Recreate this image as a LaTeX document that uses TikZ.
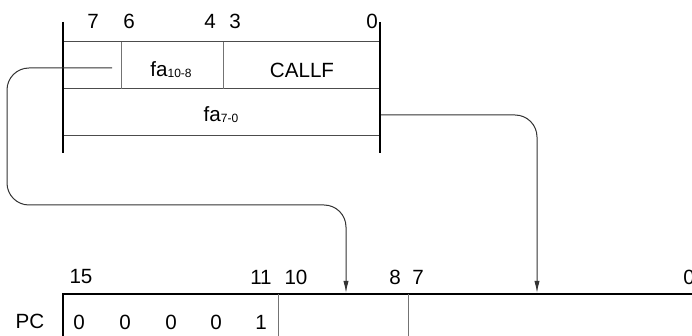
\documentclass[tikz,border=0pt]{standalone}
\usepackage{fontspec}
\setmainfont{Liberation Sans}
\usetikzlibrary{arrows.meta}

\newcommand{\bitsub}[1]{\raisebox{-0.4pt}{\fontsize{6}{7}\selectfont #1}}

\begin{document}
\begin{tikzpicture}[x=0.5pt,y=-0.5pt,
  lbl/.style={inner sep=0pt,font=\fontsize{10.3}{12}\selectfont},
  bar/.style={line width=1.3pt,black},
  rule/.style={line width=0.5pt,black!70},
  divider/.style={line width=0.5pt,black!55},
  conn/.style={line width=0.5pt,black!80,rounded corners=11pt,
    -{Latex[length=6pt,width=2.6pt]}}]
\useasboundingbox (0,0) rectangle (692,336);
% instruction word
\node[lbl] (u7) at (93,21) {7};
\node[lbl] (u6) at (129,21) {6};
\node[lbl] (u4) at (210,21) {4};
\node[lbl] (u3) at (235,21) {3};
\node[lbl] (u0) at (372,21) {0};
\draw[rule] (63,42) -- (380,42);
\draw[rule] (63,89) -- (380,89);
\draw[rule] (63,136) -- (380,136);
\draw[divider] (121,42) -- (121,89);
\draw[divider] (223,42) -- (223,89);
\draw[bar] (63,22) -- (63,153);
\draw[bar] (380,22) -- (380,153);
\node[lbl] (fahi) at (171,70) {fa\bitsub{10-8}};
\node[lbl] (callf) at (302,70) {CALLF};
\node[lbl] (falo) at (221,115) {fa\bitsub{7-0}};
% program counter
\node[lbl] (p15) at (81,277) {15};
\node[lbl] (p11) at (261,277) {11};
\node[lbl] (p10) at (296,277) {10};
\node[lbl] (p8) at (395,277) {8};
\node[lbl] (p7) at (418,277) {7};
\node[lbl] (p0) at (689,277) {0};
\node[lbl] (pc) at (30,321) {PC};
\node[lbl] (b15) at (79,322) {0};
\node[lbl] (b14) at (125,322) {0};
\node[lbl] (b13) at (171,322) {0};
\node[lbl] (b12) at (216,322) {0};
\node[lbl] (b11) at (261,322) {1};
\draw[line width=1pt] (63,336) -- (63,294) -- (692,294);
\draw[divider] (278,294) -- (278,336);
\draw[divider] (408,294) -- (408,336);
% transfers
\coordinate (srcA) at (112,68);
\coordinate (srcB) at (381,115);
\coordinate (dstA) at (346,293);
\coordinate (dstB) at (537,293);
\draw[conn] (srcA) -| ++(-105,137) -| (dstA);
\draw[conn] (srcB) -| (dstB);
\end{tikzpicture}
\end{document}
